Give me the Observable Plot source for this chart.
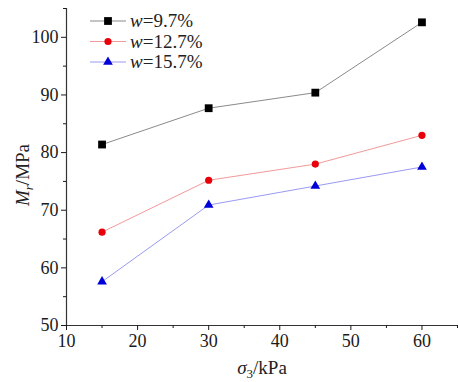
<!DOCTYPE html>
<html><head><meta charset="utf-8">
<script src="https://cdn.jsdelivr.net/npm/d3@7"></script>
<script src="https://cdn.jsdelivr.net/npm/@observablehq/plot@0.6"></script>
<style>
body{margin:0;background:#fff;}
#chart{position:relative;width:458px;height:382px;}
#chart svg, #chart svg text{font-family:"Liberation Serif","Times New Roman",serif !important;}
</style>
</head><body><div id="chart"></div>
<script>
const confiningPressure = [15, 30, 45, 60];
const seriesNames = ["w=9.7%", "w=12.7%", "w=15.7%"];
const mr97 = [81.4, 87.7, 90.4, 102.6];
const mr127 = [66.2, 75.2, 78.0, 83.0];
const mr157 = [57.6, 70.9, 74.2, 77.5];
const xMajorTicks = [10, 20, 30, 40, 50, 60];
const xMinorTicks = [15, 25, 35, 45, 55, 65];
const yMajorTicks = [50, 60, 70, 80, 90, 100];
const yMinorTicks = [55, 65, 75, 85, 95, 105];

const styles = [
  {name: seriesNames[0], vals: mr97, line: "#8a8a8a", fill: "#000", symbol: "square", r: 4.4},
  {name: seriesNames[1], vals: mr127, line: "#f29a9a", fill: "#e8000b", symbol: "circle", r: 3.6},
  {name: seriesNames[2], vals: mr157, line: "#9a9af2", fill: "#0000d8", symbol: "triangle", r: 3.6}
];
const data = styles.flatMap(s => confiningPressure.map((x, i) => ({series: s.name, x, y: s.vals[i]})));

const font = "'Liberation Serif', 'Times New Roman', serif";
const marks = [];
for (const s of styles) {
  const d = data.filter(p => p.series === s.name);
  marks.push(Plot.line(d, {x: "x", y: "y", stroke: s.line, strokeWidth: 1}));
}
for (const s of styles) {
  const d = data.filter(p => p.series === s.name);
  marks.push(Plot.dot(d, {x: "x", y: "y", symbol: () => s.symbol, fill: s.fill, stroke: "none", r: s.r}));
}

const plot = Plot.plot({
  width: 458, height: 382,
  marginLeft: 66, marginRight: 1, marginTop: 8, marginBottom: 57,
  style: {fontFamily: font, fontSize: "18px", color: "#1a1a1a", background: "#fff"},
  x: {domain: [10, 65]},
  y: {domain: [50, 105]},
  symbol: {type: "identity"},
  marks: [
    ...marks,
    Plot.ruleY([50], {stroke: "#333", strokeWidth: 1.2}),
    Plot.ruleX([10], {stroke: "#333", strokeWidth: 1.2}),
    Plot.axisX(xMajorTicks, {tickSize: 5, tickPadding: 4, label: null, fontSize: 18, fontFamily: font, tickFormat: d => d}),
    Plot.axisX(xMinorTicks, {tickSize: 3, text: null, label: null}),
    Plot.axisY(yMajorTicks, {tickSize: 5, tickPadding: 3, label: null, fontSize: 18, fontFamily: font, tickFormat: d => d}),
    Plot.axisY(yMinorTicks, {tickSize: 3, text: null, label: null})
  ]
});
document.getElementById("chart").appendChild(plot);

const svg = d3.select(plot);
// legend
const lg = svg.append("g").attr("font-size", 19).attr("text-anchor", "start");
styles.forEach((s, i) => {
  const cy = 21 + i * 20.5;
  lg.append("line").attr("x1", 90).attr("x2", 126).attr("y1", cy).attr("y2", cy).attr("stroke", s.line);
  lg.append("path").attr("transform", `translate(108,${cy})`)
    .attr("d", d3.symbol(s.symbol === "square" ? d3.symbolSquare : s.symbol === "circle" ? d3.symbolCircle : d3.symbolTriangle, Math.PI * s.r * s.r)())
    .attr("fill", s.fill);
  const t = lg.append("text").attr("x", 130).attr("y", cy + 6).attr("fill", "#222").attr("text-anchor", "start");
  t.append("tspan").attr("font-style", "italic").text("w");
  t.append("tspan").text(s.name.slice(1));
});
// axis titles
const yl = svg.append("text").attr("font-size", 19).attr("fill", "#222")
  .attr("transform", "translate(29,175) rotate(-90)").attr("text-anchor", "middle");
yl.append("tspan").attr("font-style", "italic").text("M");
yl.append("tspan").attr("font-style", "italic").attr("font-size", 13).attr("dy", 4).text("r");
yl.append("tspan").attr("dy", -4).text("/MPa");
const xl = svg.append("text").attr("font-size", 19).attr("fill", "#222")
  .attr("x", 262).attr("y", 374).attr("text-anchor", "middle");
xl.append("tspan").attr("font-style", "italic").text("σ");
xl.append("tspan").attr("font-size", 13).attr("dy", 4).text("3");
xl.append("tspan").attr("dy", -4).text("/kPa");
</script>
</body></html>
